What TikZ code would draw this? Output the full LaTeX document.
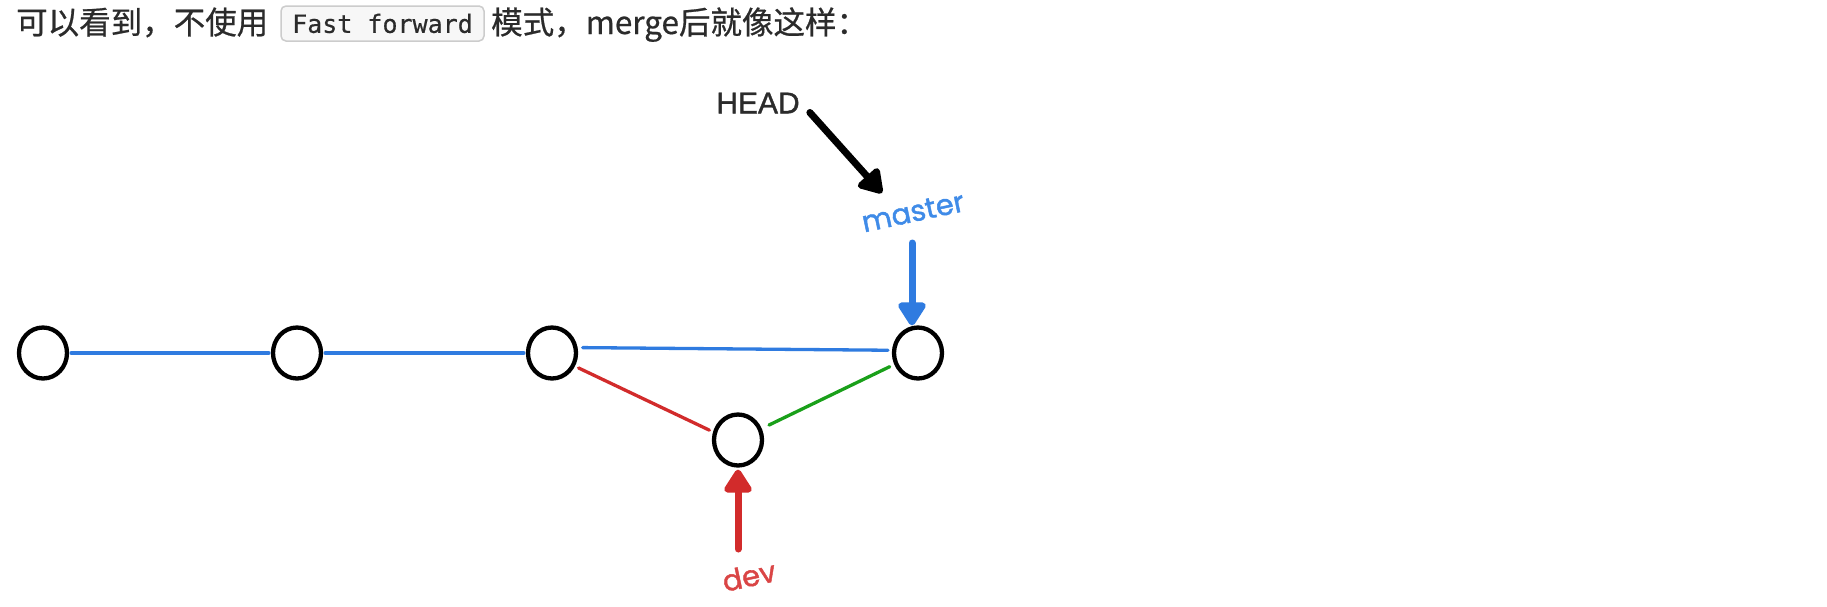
\documentclass[tikz,border=0pt]{standalone}
\usepackage{fontspec}
\setmainfont{Liberation Sans}
\newfontfamily\cjk[FakeBold=0.6]{Noto Sans CJK SC}
\newfontfamily\codefont[FakeBold=0.6]{DejaVu Sans Mono}
\newfontfamily\handfont[FakeBold=1.4]{Poppins}
\newfontfamily\headfont[FakeBold=1.2]{Liberation Sans}
\usetikzlibrary{arrows.meta,shapes.geometric,calc}
\definecolor{txt}{HTML}{2B2B2B}
\definecolor{bblue}{HTML}{2F7BE0}
\definecolor{bred}{HTML}{D22B2B}
\definecolor{bgreen}{HTML}{1AA01A}
\definecolor{mblue}{HTML}{3F8BE8}
\definecolor{dred}{HTML}{DA4545}
\definecolor{codebg}{HTML}{F7F7F7}
\definecolor{codeborder}{HTML}{CCCCCC}
\tikzset{
  prose/.style={inner sep=0pt, text=txt, font=\cjk\fontsize{31.5}{36}\selectfont},
  codebox/.style={draw=codeborder, fill=codebg, line width=1.5pt, rounded corners=5pt,
    minimum width=203pt, minimum height=35pt, inner sep=0pt, text=txt,
    font=\codefont\fontsize{25}{30}\selectfont},
  commit/.style={draw=black, line width=4.3pt, ellipse, minimum width=48pt,
    minimum height=51pt, inner sep=0pt},
  bline/.style={draw=bblue, line width=3.3pt, line cap=round},
  rline/.style={draw=bred, line width=3.3pt, line cap=round},
  gline/.style={draw=bgreen, line width=3.3pt, line cap=round},
  ptr/.style={line width=7pt, line cap=round, -{Triangle[width=31pt,length=26pt,round]}},
  headlbl/.style={inner sep=0pt, text=txt, font=\headfont\fontsize{30}{36}\selectfont},
  hand/.style={inner sep=0pt, font=\handfont\fontsize{29}{34}\selectfont},
}
\begin{document}
\begin{tikzpicture}[x=1pt,y=-1pt]
\useasboundingbox (0,0) rectangle (1827,606);
\fill[white] (0,0) rectangle (1827,606);

% top line of text
\node[prose, anchor=base west] (t1) at (16,34) {可以看到，不使用};
\node[codebox] (code) at (382.5,23.5) {Fast forward};
\node[prose, anchor=base west] (t2) at (491,34) {模式，merge后就像这样：};

% commits
\node[commit] (c1) at (43,353) {};
\node[commit] (c2) at (297,353) {};
\node[commit] (c3) at (552,353) {};
\node[commit] (c4) at (738,440) {};
\node[commit] (c5) at (918,353) {};

% history lines
\draw[bline, shorten <=2pt, shorten >=2pt] (c1) -- (c2);
\draw[bline, shorten <=2pt, shorten >=2pt] (c2) -- (c3);
\draw[bline, shorten <=5pt, shorten >=4pt] (c3.12) -- (c5.174);
\draw[rline, shorten <=4pt, shorten >=4pt] (c3.-30) -- (c4.162);
\draw[gline, shorten <=8pt, shorten >=5pt] (c4) -- (c5);

% labels
\node[headlbl] (head) at (758,103) {HEAD};
\node[hand, text=mblue, rotate=12] (master) at (913,212) {master};
\node[hand, text=dred, rotate=12] (dev) at (749,576) {dev};

% pointers
\coordinate (headtip) at (882,193);
\coordinate (mtail) at (912,243);
\coordinate (dtail) at (738,549);
\draw[ptr, black] ([xshift=10pt,yshift=1pt]head.south east) -- (headtip);
\draw[ptr, bblue] (mtail) -- (mtail |- c5.north);
\draw[ptr, bred, shorten >=2pt] (dtail) -- (c4.south);
\end{tikzpicture}
\end{document}
